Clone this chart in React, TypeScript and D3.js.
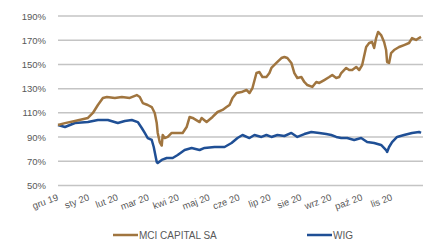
import React, { useEffect, useRef } from 'react';
import * as d3 from 'd3';

const yTicks = [50, 70, 90, 110, 130, 150, 170, 190];

const monthTicks = [
  '2019-12-31', '2020-01-31', '2020-02-29', '2020-03-31', '2020-04-30', '2020-05-31',
  '2020-06-30', '2020-07-31', '2020-08-31', '2020-09-30', '2020-10-31', '2020-11-30',
];
const monthLabels = [
  'gru 19', 'sty 20', 'lut 20', 'mar 20', 'kwi 20', 'maj 20',
  'cze 20', 'lip 20', 'sie 20', 'wrz 20', 'paź 20', 'lis 20',
];

const mciDates = [
  '2019-12-31', '2020-01-07', '2020-01-17', '2020-01-30', '2020-02-04', '2020-02-09', '2020-02-14',
  '2020-02-18', '2020-02-26', '2020-03-04', '2020-03-12', '2020-03-19', '2020-03-22', '2020-03-25',
  '2020-03-30', '2020-04-03', '2020-04-06', '2020-04-08', '2020-04-09', '2020-04-11', '2020-04-13',
  '2020-04-14', '2020-04-16', '2020-04-19', '2020-04-23', '2020-04-29', '2020-05-04', '2020-05-08',
  '2020-05-11', '2020-05-14', '2020-05-21', '2020-05-23', '2020-05-28', '2020-06-03', '2020-06-08',
  '2020-06-13', '2020-06-17', '2020-06-20', '2020-06-23', '2020-06-27', '2020-07-02', '2020-07-07',
  '2020-07-10', '2020-07-13', '2020-07-17', '2020-07-20', '2020-07-23', '2020-07-27', '2020-07-30',
  '2020-08-01', '2020-08-06', '2020-08-11', '2020-08-14', '2020-08-17', '2020-08-21', '2020-08-24',
  '2020-08-27', '2020-08-31', '2020-09-03', '2020-09-06', '2020-09-11', '2020-09-15', '2020-09-18',
  '2020-09-23', '2020-09-28', '2020-10-01', '2020-10-05', '2020-10-08', '2020-10-10', '2020-10-15',
  '2020-10-18', '2020-10-21', '2020-10-25', '2020-10-28', '2020-10-31', '2020-11-04', '2020-11-07',
  '2020-11-10', '2020-11-12', '2020-11-14', '2020-11-16', '2020-11-19', '2020-11-22', '2020-11-24',
  '2020-11-25', '2020-11-27', '2020-11-29', '2020-12-02', '2020-12-07', '2020-12-12', '2020-12-17',
  '2020-12-20', '2020-12-24', '2020-12-27', '2020-12-29',
];
const mciValues = [
  100.0, 101.5, 103.3, 105.8, 109.9, 116.5, 122.3,
  123.1, 122.3, 123.1, 122.3, 124.7, 123.1, 118.1,
  116.5, 114.8, 109.9, 101.6, 93.4, 85.9, 83.0,
  91.7, 89.2, 90.1, 93.4, 93.4, 93.4, 98.3,
  106.6, 105.8, 102.4, 105.8, 102.4, 106.6, 110.7,
  112.4, 114.8, 116.5, 122.3, 126.4, 127.2, 128.9,
  126.4, 130.5, 142.9, 143.7, 139.6, 139.6, 142.9,
  147.1, 151.2, 155.3, 156.1, 155.3, 151.2, 142.9,
  138.8, 139.6, 135.5, 133.0, 131.4, 135.5, 134.7,
  137.1, 139.6, 141.3, 138.8, 139.6, 142.9, 147.1,
  145.4, 145.4, 147.9, 145.4, 149.5, 164.4, 167.7,
  168.5, 163.6, 171.8, 176.8, 174.3, 168.5, 161.9,
  152.0, 151.2, 159.4, 161.9, 164.4, 166.0, 167.7,
  171.8, 170.2, 171.8, 172.7,
];

const wigDates = [
  '2019-12-31', '2020-01-07', '2020-01-17', '2020-01-30', '2020-02-09', '2020-02-19', '2020-02-29',
  '2020-03-07', '2020-03-14', '2020-03-20', '2020-03-24', '2020-03-27', '2020-03-30', '2020-04-03',
  '2020-04-05', '2020-04-08', '2020-04-09', '2020-04-13', '2020-04-18', '2020-04-24', '2020-04-29',
  '2020-05-06', '2020-05-13', '2020-05-21', '2020-05-26', '2020-06-05', '2020-06-15', '2020-06-22',
  '2020-06-28', '2020-07-03', '2020-07-10', '2020-07-15', '2020-07-22', '2020-07-27', '2020-08-01',
  '2020-08-07', '2020-08-14', '2020-08-21', '2020-08-27', '2020-09-03', '2020-09-10', '2020-09-18',
  '2020-09-25', '2020-09-30', '2020-10-05', '2020-10-10', '2020-10-16', '2020-10-23', '2020-10-30',
  '2020-11-05', '2020-11-12', '2020-11-19', '2020-11-24', '2020-11-25', '2020-11-27', '2020-11-30',
  '2020-12-05', '2020-12-12', '2020-12-20', '2020-12-27', '2020-12-29',
];
const wigValues = [
  100.0, 98.3, 101.6, 102.4, 104.1, 104.1, 101.6,
  103.3, 104.1, 102.4, 97.5, 93.4, 89.2, 87.6,
  81.8, 69.4, 68.6, 71.1, 72.7, 72.7, 75.2,
  79.3, 81.0, 79.3, 81.0, 81.8, 81.8, 85.1,
  89.2, 91.7, 89.2, 91.7, 90.1, 91.7, 90.1,
  91.7, 90.9, 93.4, 90.1, 92.5, 94.2, 93.4,
  92.5, 91.7, 90.1, 89.2, 89.2, 87.6, 89.2,
  85.9, 85.1, 83.5, 79.3, 77.7, 81.8, 85.9,
  90.1, 91.7, 93.4, 94.2, 93.4,
];

const MCI_COLOR = '#a0753f';
const WIG_COLOR = '#1f4f95';
const TEXT_COLOR = '#595959';
const FONT = '"Liberation Sans", Arial, sans-serif';

export default function App() {
  const svgRef = useRef<SVGSVGElement>(null);

  useEffect(() => {
    if (!svgRef.current) return;
    const svg = d3.select(svgRef.current);
    svg.selectAll('*').remove();

    const parse = d3.timeParse('%Y-%m-%d');

    const x = d3.scaleTime()
      .domain([parse('2019-12-31')!, parse('2020-12-31')!])
      .range([58, 423]);

    const y = d3.scaleLinear()
      .domain([50, 190])
      .range([185.5, 16]);

    // gridlines
    svg.append('g')
      .selectAll('line')
      .data(yTicks)
      .join('line')
      .attr('x1', 58)
      .attr('x2', 423)
      .attr('y1', d => y(d))
      .attr('y2', d => y(d))
      .attr('stroke', '#c4c4c4')
      .attr('stroke-width', 1.5);

    // y labels
    svg.append('g')
      .selectAll('text')
      .data(yTicks)
      .join('text')
      .attr('x', 46)
      .attr('y', d => y(d) + 3.5)
      .attr('text-anchor', 'end')
      .style('font-family', FONT)
      .style('font-size', '9.5px')
      .attr('fill', TEXT_COLOR)
      .text(d => `${d}%`);

    // x labels
    svg.append('g')
      .selectAll('text')
      .data(monthTicks)
      .join('text')
      .attr('transform', d => `translate(${x(parse(d)!) + 1},${200}) rotate(-20)`)
      .attr('text-anchor', 'end')
      .style('font-family', FONT)
      .style('font-size', '9.5px')
      .attr('fill', TEXT_COLOR)
      .text((d, i) => monthLabels[i]);

    const line = d3.line<[Date, number]>()
      .x(d => x(d[0]))
      .y(d => y(d[1]))
      .curve(d3.curveLinear);

    const wig: [Date, number][] = wigDates.map((d, i) => [parse(d)!, wigValues[i]]);
    const mci: [Date, number][] = mciDates.map((d, i) => [parse(d)!, mciValues[i]]);

    svg.append('path')
      .datum(wig)
      .attr('d', line)
      .attr('fill', 'none')
      .attr('stroke', WIG_COLOR)
      .attr('stroke-width', 2.5)
      .attr('stroke-linejoin', 'round');

    svg.append('path')
      .datum(mci)
      .attr('d', line)
      .attr('fill', 'none')
      .attr('stroke', MCI_COLOR)
      .attr('stroke-width', 2.5)
      .attr('stroke-linejoin', 'round');

    // legend
    const legendItems = [
      { name: 'MCI CAPITAL SA', color: MCI_COLOR, x: 113 },
      { name: 'WIG', color: WIG_COLOR, x: 307 },
    ];
    const legend = svg.append('g').attr('transform', 'translate(0,235)');
    legendItems.forEach(item => {
      legend.append('line')
        .attr('x1', item.x)
        .attr('x2', item.x + 25)
        .attr('y1', 0)
        .attr('y2', 0)
        .attr('stroke', item.color)
        .attr('stroke-width', 2.5);
      legend.append('text')
        .attr('x', item.x + 26)
        .attr('y', 3.5)
        .style('font-family', FONT)
        .style('font-size', '10px')
        .attr('fill', TEXT_COLOR)
        .text(item.name);
    });
  }, []);

  return (
    <svg
      ref={svgRef}
      width={430}
      height={243}
      style={{ position: 'absolute', left: 0, top: 0, background: '#fff' }}
    />
  );
}
